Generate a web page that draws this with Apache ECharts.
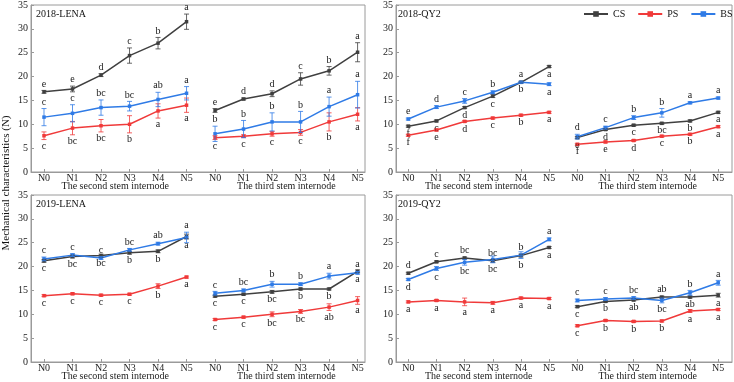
<!DOCTYPE html>
<html>
<head>
<meta charset="utf-8">
<script src="https://cdn.jsdelivr.net/npm/echarts@6/dist/echarts.min.js"></script>
<style>
  html, body { margin: 0; padding: 0; background: #fff; }
  #chart { width: 734px; height: 382px; }
</style>
</head>
<body>
<div id="chart"></div>
<script>
// categories and labels
var stages = ['N0', 'N1', 'N2', 'N3', 'N4', 'N5'];
var internodes = ['The second stem internode', 'The third stem internode'];
var panelTitles = ['2018-LENA', '2018-QY2', '2019-LENA', '2019-QY2'];
var traits = ['CS', 'PS', 'BS'];

// each array: 6 values for the second internode, then 6 for the third
// 2018-LENA
var lena18CS = [16.8, 17.4, 20.3, 24.4, 27.0, 31.5, 12.9, 15.3, 16.4, 19.5, 21.2, 25.1];
var lena18CSErr = [0.3, 0.6, 0.3, 1.6, 1.2, 1.6, 0.4, 0.2, 0.6, 1.3, 0.9, 2.0];
var lena18CSSig = ['e', 'e', 'd', 'c', 'b', 'a', 'e', 'd', 'd', 'c', 'b', 'a'];
var lena18CSPos = ['T', 'T', 'T', 'T', 'T', 'T', 'T', 'T', 'T', 'T', 'T', 'T'];
var lena18PS = [7.6, 9.2, 9.7, 10.0, 12.8, 14.0, 7.2, 7.5, 8.0, 8.3, 10.5, 12.1];
var lena18PSErr = [0.8, 1.4, 1.3, 1.8, 1.5, 1.5, 0.4, 0.3, 0.5, 0.6, 1.9, 1.4];
var lena18PSSig = ['c', 'bc', 'bc', 'b', 'a', 'a', 'c', 'c', 'c', 'c', 'b', 'a'];
var lena18PSPos = ['B', 'B', 'B', 'B', 'B', 'B', 'B', 'B', 'B', 'B', 'B', 'B'];
var lena18BS = [11.5, 12.3, 13.5, 13.8, 15.2, 16.5, 8.0, 9.0, 10.5, 10.5, 13.7, 16.2];
var lena18BSErr = [1.8, 1.8, 1.6, 1.0, 1.5, 1.4, 1.6, 1.8, 1.9, 2.2, 2.0, 2.8];
var lena18BSSig = ['c', 'c', 'bc', 'bc', 'ab', 'a', 'b', 'b', 'b', 'b', 'a', 'a'];
var lena18BSPos = ['T', 'T', 'T', 'T', 'T', 'T', 'T', 'T', 'T', 'T', 'T', 'T'];

// 2018-QY2
var qy18CS = [9.6, 10.7, 13.5, 15.9, 18.8, 22.1, 7.2, 8.9, 9.8, 10.2, 10.7, 12.5];
var qy18CSErr = [0.2, 0.2, 0.2, 0.3, 0.2, 0.2, 0.2, 0.2, 0.2, 0.2, 0.2, 0.2];
var qy18CSSig = ['f', 'c', 'd', 'c', 'a', 'a', 'e', 'd', 'c', 'bc', 'b', 'a'];
var qy18CSPos = ['B', 'B', 'B', 'B', 'T', 'B', 'B', 'B', 'B', 'B', 'B', 'B'];
var qy18PS = [7.7, 8.8, 10.6, 11.3, 11.9, 12.5, 5.8, 6.3, 6.6, 7.5, 7.9, 9.5];
var qy18PSErr = [0.2, 0.2, 0.2, 0.2, 0.2, 0.2, 0.2, 0.2, 0.2, 0.2, 0.2, 0.2];
var qy18PSSig = ['f', 'e', 'd', 'c', 'b', 'a', 'f', 'e', 'd', 'c', 'b', 'a'];
var qy18PSPos = ['B', 'B', 'B', 'B', 'B', 'B', 'B', 'B', 'B', 'B', 'B', 'B'];
var qy18BS = [11.1, 13.6, 14.9, 16.7, 18.8, 18.4, 7.4, 9.3, 11.4, 12.4, 14.5, 15.5];
var qy18BSErr = [0.2, 0.3, 0.5, 0.3, 0.2, 0.3, 0.5, 0.3, 0.4, 0.9, 0.2, 0.2];
var qy18BSSig = ['e', 'd', 'c', 'b', 'b', 'a', 'd', 'c', 'b', 'b', 'a', 'a'];
var qy18BSPos = ['T', 'T', 'T', 'T', 'B', 'B', 'T', 'T', 'T', 'T', 'T', 'T'];

// 2019-LENA
var lena19CS = [21.2, 22.1, 22.3, 22.9, 23.2, 26.3, 13.8, 14.2, 14.7, 15.3, 15.3, 19.0];
var lena19CSErr = [0.3, 0.3, 0.3, 0.3, 0.3, 0.5, 0.2, 0.2, 0.3, 0.2, 0.2, 0.3];
var lena19CSSig = ['c', 'bc', 'bc', 'b', 'b', 'a', 'c', 'c', 'bc', 'b', 'b', 'a'];
var lena19CSPos = ['B', 'B', 'B', 'B', 'B', 'B', 'B', 'B', 'B', 'B', 'B', 'B'];
var lena19PS = [13.9, 14.3, 14.0, 14.2, 15.9, 17.8, 8.9, 9.4, 10.0, 10.6, 11.5, 12.9];
var lena19PSErr = [0.2, 0.2, 0.2, 0.2, 0.5, 0.2, 0.2, 0.2, 0.5, 0.4, 0.7, 0.8];
var lena19PSSig = ['c', 'c', 'c', 'c', 'b', 'a', 'c', 'c', 'bc', 'bc', 'ab', 'a'];
var lena19PSPos = ['B', 'B', 'B', 'B', 'B', 'B', 'B', 'B', 'B', 'B', 'B', 'B'];
var lena19BS = [21.6, 22.4, 21.8, 23.5, 24.8, 26.1, 14.4, 15.0, 16.3, 16.3, 18.0, 18.7];
var lena19BSErr = [0.4, 0.3, 0.3, 0.3, 0.3, 1.1, 0.4, 0.3, 0.6, 0.3, 0.6, 0.3];
var lena19BSSig = ['c', 'c', 'c', 'bc', 'ab', 'a', 'c', 'bc', 'b', 'b', 'a', 'a'];
var lena19BSPos = ['T', 'T', 'T', 'T', 'T', 'T', 'T', 'T', 'T', 'T', 'T', 'T'];

// 2019-QY2
var qy19CS = [18.6, 21.0, 21.8, 21.2, 22.3, 24.0, 11.6, 12.7, 13.0, 13.6, 13.6, 14.0];
var qy19CSErr = [0.2, 0.2, 0.2, 0.3, 0.3, 0.2, 0.2, 0.2, 0.2, 0.2, 0.2, 0.4];
var qy19CSSig = ['d', 'c', 'bc', 'bc', 'b', 'a', 'c', 'b', 'ab', 'ab', 'ab', 'a'];
var qy19CSPos = ['T', 'T', 'T', 'T', 'T', 'B', 'B', 'B', 'B', 'T', 'B', 'B'];
var qy19PS = [12.6, 12.9, 12.6, 12.4, 13.4, 13.3, 7.6, 8.7, 8.5, 8.6, 10.7, 11.0];
var qy19PSErr = [0.2, 0.2, 0.8, 0.3, 0.2, 0.2, 0.2, 0.2, 0.2, 0.2, 0.3, 0.2];
var qy19PSSig = ['a', 'a', 'a', 'a', 'a', 'a', 'c', 'b', 'b', 'b', 'a', 'a'];
var qy19PSPos = ['B', 'B', 'B', 'B', 'B', 'B', 'B', 'B', 'B', 'B', 'B', 'B'];
var qy19BS = [17.3, 19.6, 20.9, 21.5, 22.4, 25.7, 12.9, 13.2, 13.4, 12.9, 14.5, 16.6];
var qy19BSErr = [0.2, 0.4, 0.6, 0.7, 0.7, 0.3, 0.3, 0.3, 0.3, 0.5, 0.5, 0.5];
var qy19BSSig = ['d', 'c', 'bc', 'bc', 'b', 'a', 'c', 'c', 'bc', 'bc', 'b', 'a'];
var qy19BSPos = ['B', 'B', 'B', 'B', 'B', 'T', 'T', 'T', 'T', 'B', 'T', 'T'];

(function () {
  var chart = echarts.init(document.getElementById('chart'));
  var font = '"Liberation Serif", "Times New Roman", serif';
  var colors = { CS: '#404040', PS: '#f03a3a', BS: '#2f7be6' };
  var frame = '#9a9a9a';

  // trait -> [values, errors, letters, letter side] for each panel
  var panels = [
    { CS: [lena18CS, lena18CSErr, lena18CSSig, lena18CSPos], PS: [lena18PS, lena18PSErr, lena18PSSig, lena18PSPos], BS: [lena18BS, lena18BSErr, lena18BSSig, lena18BSPos] },
    { CS: [qy18CS, qy18CSErr, qy18CSSig, qy18CSPos], PS: [qy18PS, qy18PSErr, qy18PSSig, qy18PSPos], BS: [qy18BS, qy18BSErr, qy18BSSig, qy18BSPos] },
    { CS: [lena19CS, lena19CSErr, lena19CSSig, lena19CSPos], PS: [lena19PS, lena19PSErr, lena19PSSig, lena19PSPos], BS: [lena19BS, lena19BSErr, lena19BSSig, lena19BSPos] },
    { CS: [qy19CS, qy19CSErr, qy19CSSig, qy19CSPos], PS: [qy19PS, qy19PSErr, qy19PSSig, qy19PSPos], BS: [qy19BS, qy19BSErr, qy19BSSig, qy19BSPos] }
  ];

  // plot boxes in pixels, x extent so that N0..N5 land where the original has them
  var boxes = [
    { left: 31, top: 5, width: 334, min: 0.544, max: 12.26 },
    { left: 396, top: 5, width: 336, min: 0.564, max: 12.49 },
    { left: 31, top: 195, width: 334, min: 0.544, max: 12.26 },
    { left: 396, top: 195, width: 336, min: 0.564, max: 12.49 }
  ];
  var slots = [];
  for (var k = 1; k <= 12; k++) slots.push(k);

  var grid = [], xAxis = [], yAxis = [], series = [], title = [];

  function errorBars(sig, pos, color) {
    return function (params, api) {
      var x = api.value(0), v = api.value(1), e = api.value(2);
      var hi = api.coord([x, v + e]);
      var lo = api.coord([x, v - e]);
      var up = pos[params.dataIndex] === 'T';
      var ls = { stroke: color, lineWidth: 1, opacity: 0.8 };
      return {
        type: 'group',
        children: [
          { type: 'line', shape: { x1: hi[0], y1: hi[1], x2: lo[0], y2: lo[1] }, style: ls },
          { type: 'line', shape: { x1: hi[0] - 2.5, y1: hi[1], x2: hi[0] + 2.5, y2: hi[1] }, style: ls },
          { type: 'line', shape: { x1: lo[0] - 2.5, y1: lo[1], x2: lo[0] + 2.5, y2: lo[1] }, style: ls },
          {
            type: 'text', x: hi[0], y: up ? hi[1] - 1.5 : lo[1] + 1.5,
            style: {
              text: sig[params.dataIndex], fill: '#1a1a1a', font: '10px ' + font,
              align: 'center', verticalAlign: up ? 'bottom' : 'top'
            }
          }
        ]
      };
    };
  }

  boxes.forEach(function (b, i) {
    grid.push({ left: b.left, top: b.top, width: b.width, height: 167, show: true, borderColor: frame, borderWidth: 1 });
    xAxis.push({
      type: 'value', gridIndex: i, min: b.min, max: b.max, position: 'bottom',
      axisLine: { lineStyle: { color: frame } },
      axisTick: { inside: true, length: 3, customValues: slots, lineStyle: { color: frame } },
      splitLine: { show: false },
      axisLabel: {
        customValues: slots, margin: 1, color: '#222', fontSize: 10, fontFamily: font,
        formatter: function (v) { return stages[(Math.round(v) - 1) % 6]; }
      }
    });
    xAxis.push({
      type: 'value', gridIndex: i, min: b.min, max: b.max, position: 'bottom',
      axisLine: { show: false }, axisTick: { show: false }, splitLine: { show: false },
      axisLabel: {
        customValues: [3.5, 9.5], margin: 9, color: '#222', fontSize: 10, fontFamily: font,
        formatter: function (v) { return v < 6.5 ? internodes[0] : internodes[1]; }
      }
    });
    yAxis.push({
      type: 'value', gridIndex: i, min: 0, max: 35, interval: 5,
      axisLine: { show: true, lineStyle: { color: frame } },
      axisTick: { show: true, inside: true, length: 3, lineStyle: { color: frame } },
      splitLine: { show: false },
      axisLabel: { margin: 3, color: '#222', fontSize: 10, fontFamily: font }
    });
    title.push({
      text: panelTitles[i], left: b.left + (i % 2 ? 2 : 5), top: b.top + 4, padding: 0,
      textStyle: { fontSize: 10, fontWeight: 'normal', color: '#111', fontFamily: font }
    });

    traits.forEach(function (t) {
      var d = panels[i][t];
      [0, 1].forEach(function (g) {
        var pts = [];
        for (var j = g * 6; j < g * 6 + 6; j++) pts.push([slots[j], d[0][j]]);
        series.push({
          name: t, type: 'line', xAxisIndex: i * 2, yAxisIndex: i, data: pts,
          symbol: 'rect', symbolSize: 3.5, color: colors[t],
          lineStyle: { width: 1.5, color: colors[t] }, z: 3
        });
      });
      var bars = slots.map(function (x, j) { return [x, d[0][j], d[1][j]]; });
      series.push({
        name: t, type: 'custom', xAxisIndex: i * 2, yAxisIndex: i, data: bars,
        renderItem: errorBars(d[2], d[3], colors[t]), z: 4
      });
    });
  });

  var option = {
    animation: false,
    title: title,
    legend: {
      data: traits, left: 583, top: 9, width: 150, padding: 0, orient: 'horizontal',
      itemWidth: 24, itemHeight: 7, itemGap: 12,
      textStyle: { fontSize: 10, color: '#111', fontFamily: font }
    },
    grid: grid,
    xAxis: xAxis,
    yAxis: yAxis,
    graphic: [{
      type: 'text', x: 6, y: 183, rotation: Math.PI / 2,
      style: { text: 'Mechanical characteristics (N)', font: '11px ' + font, fill: '#111', align: 'center', verticalAlign: 'middle' }
    }],
    series: series
  };

  chart.setOption(option);
})();
</script>
</body>
</html>
